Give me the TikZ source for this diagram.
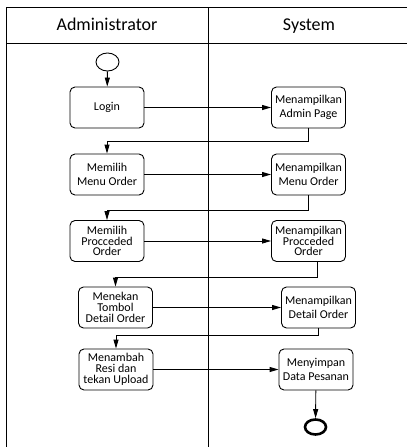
\documentclass[tikz,border=0pt]{standalone}
\usepackage{fontspec}
\setmainfont{Carlito}
\usetikzlibrary{arrows.meta,shapes.geometric}

\tikzset{
  aksi/.style={draw, rounded corners=5pt, line width=0.9pt, minimum width=74, minimum height=41,
    align=center, inner sep=1pt, font=\fontsize{12}{13.3}\selectfont},
  aksitiga/.style={aksi, font=\fontsize{12}{10.8}\selectfont},
  panah/.style={line width=0.9pt, -{Triangle[length=9pt,width=5pt]}}
}

\begin{document}
\begin{tikzpicture}[x=1pt,y=-1pt]
        \useasboundingbox (0,0) rectangle (407,447);
        % swimlanes
        \draw [line width=0.9pt] (6,447) -- (6,7) -- (407,7);
        \draw [line width=0.9pt] (6,43) -- (407,43);
        \draw [line width=0.9pt] (208,7) -- (208,447);
        \node [anchor=base] (admin) at (107,30) {\fontsize{18}{20}\selectfont Administrator};
        \node [anchor=base] (sistem) at (309,30) {\fontsize{18}{20}\selectfont System};

        \node [draw, ellipse, line width=0.9pt, minimum width=23, minimum height=18, inner sep=0pt] (mulai) at (107.5,62) {};

        \node [aksi] (login) at (107,107.5) {Login};
        \node [aksi] (adminpage) at (308.5,107.5) {Menampilkan\\Admin Page};
        \node [aksi] (menu1) at (107,174.5) {Memilih\\Menu Order};
        \node [aksi] (menu2) at (308.5,174.5) {Menampilkan\\Menu Order};
        \node [aksitiga] (proc1) at (107,241) {Memilih\\Procceded\\Order};
        \node [aksitiga] (proc2) at (308.5,241) {Menampilkan\\Procceded\\Order};
        \node [aksitiga] (detail1) at (115.5,307.5) {Menekan\\Tombol\\Detail Order};
        \node [aksi] (detail2) at (318.5,307.5) {Menampilkan\\Detail Order};
        \node [aksitiga] (resi) at (116,369.5) {Menambah\\Resi dan\\tekan Upload};
        \node [aksi] (simpan) at (316,369.5) {Menyimpan\\Data Pesanan};

        \node [draw, ellipse, line width=2.6pt, minimum width=21, minimum height=15, inner sep=0pt] (selesai) at (315.5,427) {};

        % alur
        \draw [panah] (mulai) -- (login);
        \draw [panah] (login) -- (adminpage);
        \draw [panah] (adminpage.south) -- ++(0,13) -| (menu1.north);
        \draw [panah] (menu1) -- (menu2);
        \draw [panah] (menu2.south) -- ++(0,15) -| (proc1.north);
        \draw [panah] (proc1) -- (proc2);
        \draw [panah] ([xshift=8.5pt]proc2.south) -- ++(0,15) -| (detail1.north);
        \draw [panah] (detail1) -- (detail2);
        \draw [panah] (detail2.south) -- ++(0,7) -| (resi.north);
        \draw [panah] (resi) -- (simpan);
        \draw [panah] (simpan) -- (selesai);
      \end{tikzpicture}
\end{document}
